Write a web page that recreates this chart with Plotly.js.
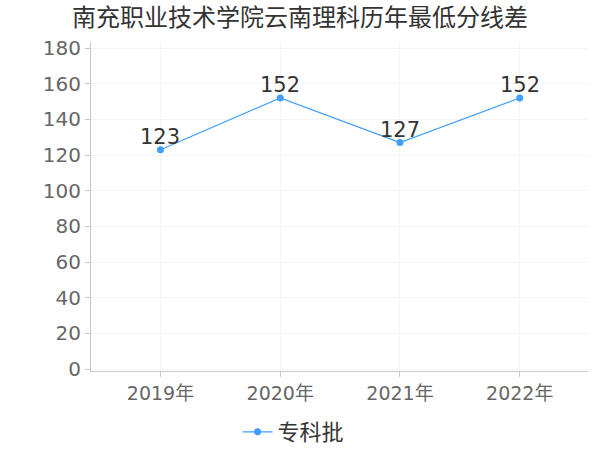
<!DOCTYPE html>
<html>
<head>
<meta charset="utf-8">
<script src="https://cdn.plot.ly/plotly-3.0.1.min.js"></script>
<style>html,body{margin:0;padding:0;background:#fff;}#chart{width:600px;height:450px;}</style>
</head>
<body>
<div id="chart"></div>
<script>
var categories = ["2019年", "2020年", "2021年", "2022年"];
var seriesName = "专科批";
var values = [123, 152, 127, 152];
var yTicks = [0, 20, 40, 60, 80, 100, 120, 140, 160, 180];
var titleText = "南充职业技术学院云南理科历年最低分线差";

var font = '"DejaVu Sans", "Noto Sans CJK SC", sans-serif';
var trace = {
  type: "scatter",
  mode: "lines+markers",
  x: categories,
  y: values,
  name: seriesName,
  line: {color: "#409EFF", width: 1.2},
  marker: {color: "#409EFF", size: 7},
  cliponaxis: false
};
var labels = categories.map(function (c, i) {
  return {x: c, y: values[i], xref: "x", yref: "y", text: String(values[i]),
          showarrow: false, xanchor: "center", yanchor: "bottom", yshift: -1,
          font: {family: font, size: 21, color: "#333"}};
});
var layout = {
  width: 600, height: 450,
  margin: {l: 91, r: 12, t: 42, b: 79, autoexpand: false},
  paper_bgcolor: "#fff", plot_bgcolor: "#fff",
  font: {family: font, color: "#666"},
  title: {text: titleText, x: 0.5, xanchor: "center", y: 0.96, yanchor: "middle",
          font: {family: font, size: 24, color: "#333"}},
  xaxis: {
    type: "category",
    range: [-0.58, 3.57],
    showgrid: true, gridcolor: "#f3f3f3", gridwidth: 1,
    showline: true, linecolor: "#c8c8c8", linewidth: 1,
    ticks: "outside", ticklen: 5, tickcolor: "#c8c8c8",
    tickfont: {family: font, size: 19, color: "#666"},
    zeroline: false, fixedrange: true, automargin: false
  },
  yaxis: {
    range: [-1.1, 183.4],
    tickvals: yTicks,
    showgrid: true, gridcolor: "#f3f3f3", gridwidth: 1,
    showline: true, linecolor: "#c8c8c8", linewidth: 1,
    ticks: "outside", ticklen: 5, tickcolor: "#c8c8c8",
    tickfont: {family: font, size: 20, color: "#666"},
    zeroline: false, fixedrange: true, automargin: false
  },
  annotations: labels,
  showlegend: true,
  legend: {orientation: "h", x: 0.4075, xanchor: "center", yref: "container", y: 0.04, yanchor: "middle",
           font: {family: font, size: 22, color: "#333"}}
};
Plotly.newPlot("chart", [trace], layout, {staticPlot: true, displayModeBar: false});
</script>
</body>
</html>
